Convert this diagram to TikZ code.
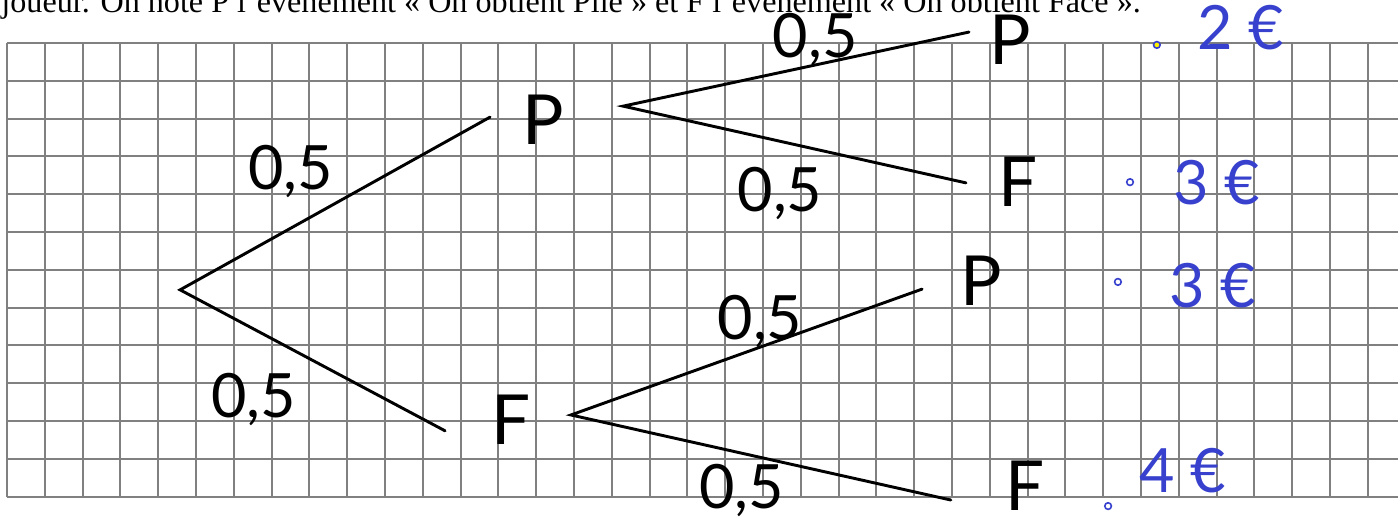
\documentclass[tikz,border=0pt]{standalone}
\usepackage{fontspec}
\setmainfont{Liberation Serif}
\newfontfamily\hand{Lato}
\usepackage{tikz}
\usetikzlibrary{positioning}
\definecolor{inkblue}{RGB}{55,65,205}
\definecolor{gridgray}{RGB}{128,128,128}

\begin{document}
\begin{tikzpicture}[line width=2.2pt,
    gridline/.style={draw=gridgray, line width=1.5pt},
    branch/.style={draw=black, line width=2.2pt, line cap=round},
    prob/.style={font=\hand\fontsize{46}{50}\selectfont, inner sep=0pt},
    letter/.style={font=\hand\fontsize{52}{56}\selectfont, inner sep=0pt},
    gain/.style={prob, text=inkblue},
    dot/.style={circle, draw=inkblue, line width=1.2pt, inner sep=0pt, minimum size=5pt}]
    \useasboundingbox (-0.185,-12.78) rectangle (36.80,1.138);

    % Squared paper
    \draw[gridline] (0,-12) grid (36.8,0);

    % Statement, cut at the top
    \node[anchor=base west, inner sep=0pt, font=\fontsize{24.2}{29}\selectfont] (stmt) at (-0.185,0.82)
        {joueur. On note P l’événement «~On obtient Pile~» et F l’événement «~On obtient Face~».};

    % First toss
    \coordinate (root) at (4.58,-6.53);
    \coordinate (endP) at (12.78,-1.96);
    \coordinate (endF) at (11.59,-10.26);
    \node[letter] (P) at (14.18,-2.04) {P};
    \node[letter] (F) at (13.33,-9.97) {F};
    \draw[branch] (endP) -- (root) -- (endF);
    \node[prob] (p1) at (7.51,-3.41) {0,5};
    \node[prob] (p2) at (6.52,-9.44) {0,5};

    % Second toss after P
    \coordinate (rootP) at (16.30,-1.67);
    \coordinate (endPP) at (25.45,0.29);
    \coordinate (endPF) at (25.37,-3.70);
    \node[letter] (PP) at (26.53,0.08) {P};
    \node[letter] (PF) at (26.75,-3.68) {F};
    \draw[branch] (endPP) -- (rootP) -- (endPF);
    \node[prob] (p3) at (21.38,0.08) {0,5};
    \node[prob] (p4) at (20.45,-3.97) {0,5};

    % Second toss after F
    \coordinate (rootF) at (14.92,-9.84);
    \coordinate (endFP) at (24.21,-6.51);
    \coordinate (endFF) at (24.97,-12.09);
    \node[letter] (FP) at (25.77,-6.30) {P};
    \node[letter] (FF) at (26.93,-11.72) {F};
    \draw[branch] (endFP) -- (rootF) -- (endFF);
    \node[prob] (p5) at (19.92,-7.38) {0,5};
    \node[prob] (p6) at (19.44,-11.83) {0,5};

    % Gains
    \node[dot, fill=yellow] (d1) at (30.42,-0.05) {};
    \node[gain] (g1) at (32.63,0.40) {2 €};
    \node[dot] (d2) at (29.71,-3.68) {};
    \node[gain] (g2) at (32.00,-3.70) {3 €};
    \node[dot] (d3) at (29.39,-6.32) {};
    \node[gain] (g3) at (31.89,-6.43) {3 €};
    \node[dot] (d4) at (29.13,-12.25) {};
    \node[gain] (g4) at (31.11,-11.30) {4 €};
\end{tikzpicture}
\end{document}
